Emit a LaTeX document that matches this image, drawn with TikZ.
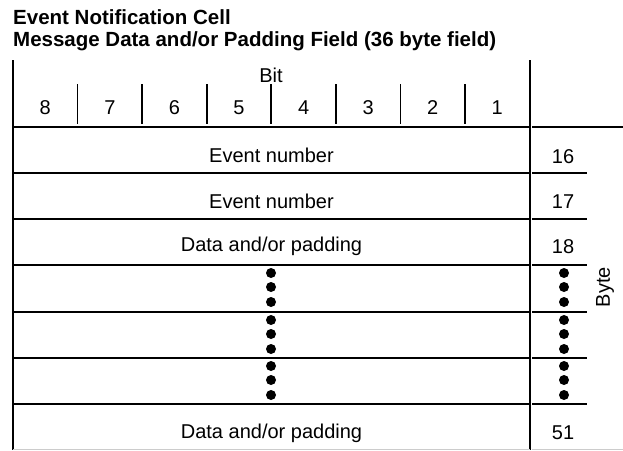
\documentclass[tikz,border=0pt]{standalone}
\usepackage{fontspec}
\setmainfont{Liberation Sans}
\usetikzlibrary{positioning}

\begin{document}
\begin{tikzpicture}[x=1pt, y=-1pt, font=\fontsize{20}{24}\selectfont,
    rule/.style={line width=1.7pt},
    heading/.style={anchor=base west, inner sep=0pt, font=\fontsize{20.5}{24}\selectfont\bfseries}]
    \useasboundingbox (0,0) rectangle (623,450);
    \node[heading] (title) at (13,24) {Event Notification Cell};
    \node[heading] (subtitle) at (13,46) {Message Data and/or Padding Field (36 byte field)};
    \draw[rule] (13,60) -- (13,450);
    \draw[rule] (530,60) -- (530,450);
    \foreach \k in {1,...,7}
        \draw[rule] ({13+64.57*\k},84) -- ({13+64.57*\k},124);
    \foreach \b [count=\i] in {8,...,1}
        \node (bit\b) at ({13+64.57*(\i-0.5)},108) {\b};
    \node (bitlabel) at (271,75) {Bit};
    \foreach \r in {127,173,219,265,312,358,404}
        \draw[rule] (13,\r) -- (530,\r);
    \draw[rule] (532,127) -- (623,127);
    \foreach \r in {173,219,265,312,358,404}
        \draw[rule] (532,\r) -- (587,\r);
    \draw[gray!40, line width=1pt] (13,449) -- (530,449) (532,449) -- (623,449);
    \node (event16) at (271.5,155) {Event number};
    \node (event17) at (271.5,201) {Event number};
    \node (data18) at (271.5,246) {Data and/or padding};
    \node (data51) at (271.5,433) {Data and/or padding};
    \node (byte16) at (563,157) {16};
    \node (byte17) at (563,202) {17};
    \node (byte18) at (563,247) {18};
    \node (byte51) at (563,433) {51};
    \foreach \r in {265,312,358}
        \foreach \d in {8,22,37} {
            \fill (271,\r+\d) circle (5pt);
            \fill (564,\r+\d) circle (5pt);
        }
    \node[rotate=90] (bytelabel) at (605,287) {Byte};
\end{tikzpicture}
\end{document}
